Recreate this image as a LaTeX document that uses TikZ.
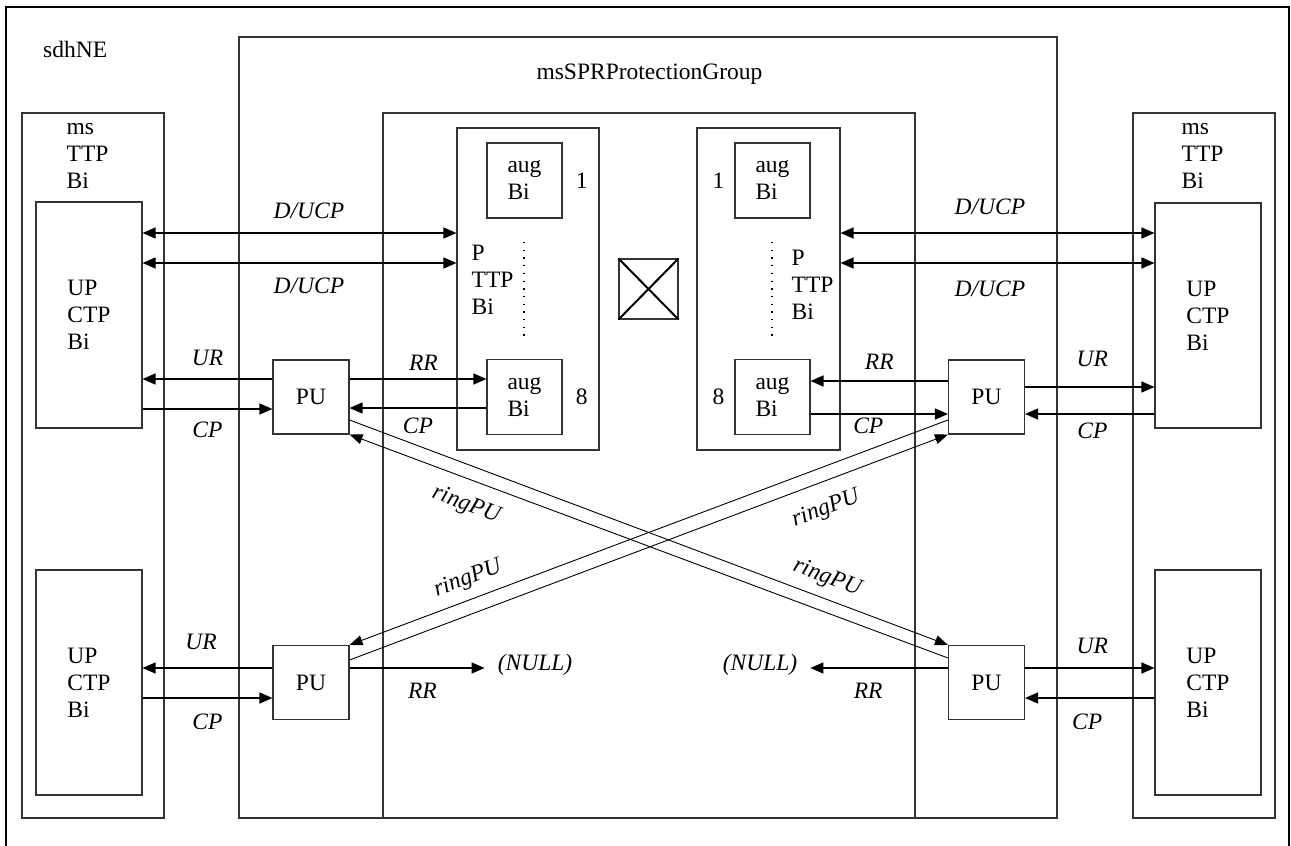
\documentclass[tikz,border=0pt]{standalone}
\usepackage{fontspec}
\setmainfont{Liberation Serif}
\usetikzlibrary{arrows.meta,positioning}
\newcommand\nefont{\fontsize{23.5}{27}\selectfont}

\begin{document}
\begin{tikzpicture}[x=1pt,y=-1pt,font=\nefont,
    box/.style={draw=black!80,line width=1.1pt,inner sep=0pt,align=left},
    pu/.style={box,minimum width=76pt,minimum height=74pt},
    aug/.style={box,minimum width=75pt,minimum height=75pt},
    lbl/.style={font=\nefont\itshape,inner sep=0pt},
    flow/.style={line width=1.5pt,-{Triangle[length=13pt,width=11pt]}},
    duplex/.style={line width=1.5pt,{Triangle[length=13pt,width=11pt]}-{Triangle[length=13pt,width=11pt]}},
    ring/.style={line width=0.9pt,-{Triangle[length=13pt,width=10pt]}},
    dots/.style={line width=1.3pt,dash pattern=on 1.3pt off 6.4pt}]
  \useasboundingbox (0,0) rectangle (1291,846);
  \draw[line width=1.4pt] (6,900) |- (1289,7) -- (1289,900);
  \node[anchor=base west,inner sep=0pt] (ne) at (43,57) {sdhNE};

  % containers
  \node[box,minimum width=142pt,minimum height=705pt] (msL) at (93,465.5) {};
  \node[box,minimum width=142pt,minimum height=705pt] (msR) at (1204,465.5) {};
  \node[box,minimum width=818pt,minimum height=781pt] (grp) at (648,427.5) {};
  \node[box,minimum width=532pt,minimum height=705pt] (inner) at (649,465.5) {};
  \node[anchor=base,inner sep=0pt] (grpname) at (649.5,79) {msSPRProtectionGroup};
  \node[anchor=north west,inner sep=0pt,align=left] (msLname) at ([xshift=45pt,yshift=-11pt]msL.north west) {ms\\TTP\\Bi};
  \node[anchor=north west,inner sep=0pt,align=left] (msRname) at ([xshift=49pt,yshift=-11pt]msR.north west) {ms\\TTP\\Bi};

  \node[box,minimum width=106pt,minimum height=226pt] (upL1) at (89,315) {UP\\CTP\\Bi};
  \node[box,minimum width=106pt,minimum height=225pt] (upL2) at (89,682.5) {UP\\CTP\\Bi};
  \node[box,minimum width=106pt,minimum height=225pt] (upR1) at (1208,315.5) {UP\\CTP\\Bi};
  \node[box,minimum width=106pt,minimum height=225pt] (upR2) at (1208,682.5) {UP\\CTP\\Bi};

  % P TTP Bi with aug Bi 1..8
  \node[box,minimum width=142pt,minimum height=322pt] (pttpL) at (528,289) {};
  \node[box,minimum width=143pt,minimum height=322pt] (pttpR) at (768.5,289) {};
  \node[anchor=north west,inner sep=0pt,align=left] (pttpLname) at ([xshift=15pt,yshift=-117pt]pttpL.north west) {P\\TTP\\Bi};
  \node[anchor=north west,inner sep=0pt,align=left] (pttpRname) at ([xshift=95pt,yshift=-122pt]pttpR.north west) {P\\TTP\\Bi};
  \node[aug] (augL1) at (524.5,180.5) {aug\\Bi};
  \node[aug] (augL8) at (524.5,397) {aug\\Bi};
  \node[aug] (augR1) at (772.5,180.5) {aug\\Bi};
  \node[aug] (augR8) at (772.5,397) {aug\\Bi};
  \node[inner sep=0pt,right=13pt of augL1] (nL1) {1};
  \node[inner sep=0pt,right=13pt of augL8] (nL8) {8};
  \node[inner sep=0pt,left=10pt of augR1] (nR1) {1};
  \node[inner sep=0pt,left=10pt of augR8] (nR8) {8};
  \draw[dots] (524,242) -- (524,336);
  \draw[dots] (772,242) -- (772,336);

  \node[box,minimum width=59pt,minimum height=60pt] (xc) at (648.5,289) {};
  \draw[line width=2pt] (xc.north west) -- (xc.south east) (xc.north east) -- (xc.south west);

  \node[pu] (puUL) at (311,397) {PU};
  \node[pu] (puLL) at (311,682.5) {PU};
  \node[pu] (puUR) at (986.5,397) {PU};
  \node[pu] (puLR) at (986.5,682.5) {PU};
  \node[lbl,inner xsep=13pt] (nullL) at (535,665) {(NULL)};
  \node[lbl,inner xsep=13pt] (nullR) at (760,665) {(NULL)};

  % D/UCP
  \draw[duplex] ([yshift=82pt]upL1.east) -- ([yshift=82pt]upL1.east -| pttpL.west) node[lbl,pos=.53,above=13.5pt] {D/UCP};
  \draw[duplex] ([yshift=52pt]upL1.east) -- ([yshift=52pt]upL1.east -| pttpL.west) node[lbl,pos=.53,below=14.5pt] {D/UCP};
  \draw[duplex] ([yshift=82.5pt]upR1.west -| pttpR.east) -- ([yshift=82.5pt]upR1.west) node[lbl,pos=.476,above=17.5pt] {D/UCP};
  \draw[duplex] ([yshift=52.5pt]upR1.west -| pttpR.east) -- ([yshift=52.5pt]upR1.west) node[lbl,pos=.476,below=17.5pt] {D/UCP};

  % upper PUs
  \draw[flow] ([yshift=18pt]puUL.west) -- ([yshift=18pt]puUL.west -| upL1.east) node[lbl,midway,above=12.5pt] {UR};
  \draw[flow] ([yshift=-12pt]puUL.west -| upL1.east) -- ([yshift=-12pt]puUL.west) node[lbl,midway,below=12.5pt] {CP};
  \draw[flow] ([yshift=18pt]puUL.east) -- ([yshift=18pt]puUL.east -| augL8.west) node[lbl,pos=.54,above=7.5pt] {RR};
  \draw[flow] ([yshift=-11pt]puUL.east -| augL8.west) -- ([yshift=-11pt]puUL.east) node[lbl,midway,below=9.5pt] {CP};
  \draw[flow] ([yshift=16pt]puUR.west) -- ([yshift=16pt]puUR.west -| augR8.east) node[lbl,midway,above=10.5pt] {RR};
  \draw[flow] ([yshift=-17pt]puUR.west -| augR8.east) -- ([yshift=-17pt]puUR.west) node[lbl,pos=.42,below=3.5pt] {CP};
  \draw[flow] ([yshift=10pt]puUR.east) -- ([yshift=10pt]puUR.east -| upR1.west) node[lbl,pos=.52,above=19.5pt] {UR};
  \draw[flow] ([yshift=-17pt]puUR.east -| upR1.west) -- ([yshift=-17pt]puUR.east) node[lbl,pos=.48,below=8.5pt] {CP};

  % lower PUs
  \draw[flow] ([yshift=14.5pt]puLL.west) -- ([yshift=14.5pt]puLL.west -| upL2.east) node[lbl,pos=.55,above=17.5pt] {UR};
  \draw[flow] ([yshift=-15.5pt]puLL.west -| upL2.east) -- ([yshift=-15.5pt]puLL.west) node[lbl,midway,below=15.5pt] {CP};
  \draw[flow] ([yshift=14.5pt]puLL.east) -- ([yshift=14.5pt]puLL.east -| nullL.west) node[lbl,pos=.54,below=14.5pt] {RR};
  \draw[flow] ([yshift=14.5pt]puLR.west) -- ([yshift=14.5pt]puLR.west -| nullR.east) node[lbl,pos=.58,below=14.5pt] {RR};
  \draw[flow] ([yshift=14.5pt]puLR.east) -- ([yshift=14.5pt]puLR.east -| upR2.west) node[lbl,pos=.52,above=13.5pt] {UR};
  \draw[flow] ([yshift=-15.5pt]puLR.east -| upR2.west) -- ([yshift=-15.5pt]puLR.east) node[lbl,pos=.52,below=15.5pt] {CP};

  % ringPU
  \draw[ring] ([yshift=-23pt]puUL.east) -- (puLR.north west);
  \draw[ring] ([yshift=24.5pt]puLR.west) -- (puUL.south east);
  \draw[ring] ([yshift=-23pt]puUR.west) -- (puLL.north east);
  \draw[ring] ([yshift=22.5pt]puLL.east) -- (puUR.south west);
  \node[lbl,rotate=-20.4] (rUL) at (466,505) {ringPU};
  \node[lbl,rotate=20.4] (rUR) at (826,509) {ringPU};
  \node[lbl,rotate=20.4] (rLL) at (468,579) {ringPU};
  \node[lbl,rotate=-20.4] (rLR) at (827,578) {ringPU};
\end{tikzpicture}
\end{document}
